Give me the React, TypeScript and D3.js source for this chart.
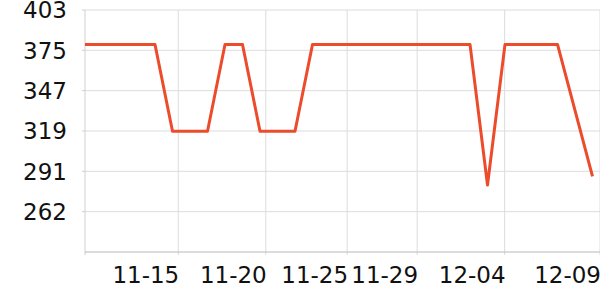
import React from "react";
import * as d3 from "d3";

// Series values (one per day index)
const values: number[] = [
  379, 379, 379, 379, 379,
  318.5, 318.5, 318.5,
  379, 379,
  318.5, 318.5, 318.5,
  379, 379, 379, 379, 379, 379, 379, 379, 379, 379,
  281,
  379, 379, 379, 379,
  333, 287,
];

// Y ticks
const yMax = 403;
const yStep = 28.11;
const yTickCount = 6;
const yMin = yMax - yTickCount * yStep;

// X tick labels and their positions (in point-index units)
const xTickLabels = ["11-15", "11-20", "11-25", "11-29", "12-04", "12-09"];
const xTickPos = [5.33, 10.33, 14.98, 18.98, 23.98, 29.43];

const W = 600;
const H = 300;
const left = 85;
const right = 600;
const top = 10;
const bottom = 252;

export default function App() {
  const x = d3.scaleLinear().domain([0, values.length - 1]).range([left, left + 29 * 17.5]);
  const y = d3.scaleLinear().domain([yMin, yMax]).range([bottom, top]);
  const yTicks = d3.range(0, yTickCount).map((i) => yMax - i * yStep);
  const line = d3
    .line<number>()
    .x((_, i) => x(i))
    .y((d) => y(d));
  const font = "DejaVu Sans, sans-serif";
  return (
    <svg
      width={W}
      height={H}
      style={{ position: "absolute", left: 0, top: 0 }}
      fontFamily={font}
    >
      {yTicks.map((t, i) => (
        <g key={"y" + i}>
          <line x1={left} x2={right} y1={y(t)} y2={y(t)} stroke="#dcdcdc" strokeWidth={1} />
          <line x1={left - 3} x2={left} y1={y(t)} y2={y(t)} stroke="#cfcfcf" strokeWidth={1} />
          <text x={67} y={y(t)} dy="0.36em" textAnchor="end" fontSize={23} fill="#111">
            {Math.round(t)}
          </text>
        </g>
      ))}
      {xTickPos.map((p, i) => (
        <g key={"x" + i}>
          <line x1={x(p)} x2={x(p)} y1={top} y2={bottom + 3} stroke="#dcdcdc" strokeWidth={1} />
          <text x={x(p) + 1} y={283} textAnchor="end" fontSize={23} fill="#111">
            {xTickLabels[i]}
          </text>
        </g>
      ))}
      <line x1={left} x2={left} y1={top} y2={bottom + 3} stroke="#d0d0d0" strokeWidth={1} />
      <line x1={left} x2={right} y1={bottom} y2={bottom} stroke="#b8b8b8" strokeWidth={1} />
      <path d={line(values) || ""} fill="none" stroke="#ec4b2c" strokeWidth={3} strokeLinejoin="round" />
    </svg>
  );
}
